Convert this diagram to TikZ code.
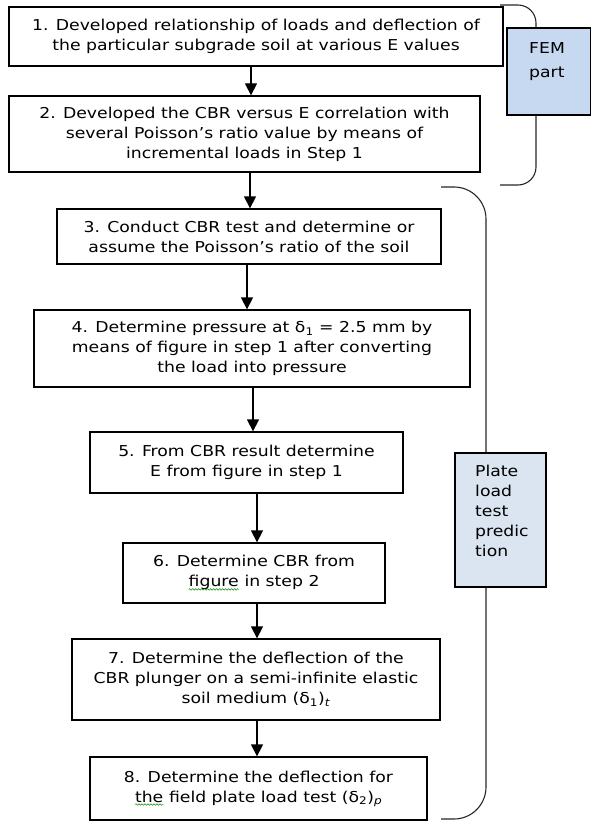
\documentclass[tikz,border=0pt]{standalone}
\usepackage{fontspec}
\setmainfont[FakeStretch=1.15]{DejaVu Sans}
\usetikzlibrary{arrows.meta,decorations.pathmorphing}
\definecolor{femblue}{HTML}{C6D9F0}
\definecolor{plateblue}{HTML}{DBE5F1}
\newcommand\fs{\fontsize{15pt}{20pt}\selectfont}
\newcommand\squig[1]{\tikz[baseline=(w.base)]{\node[inner sep=0pt,outer sep=0pt,draw=none,fill=none,text width={},minimum width=0pt,minimum height=0pt] (w) {#1};\draw[green!55!black,line width=0.5pt,decorate,decoration={snake,amplitude=0.8pt,segment length=3pt}] ([yshift=-2.5pt]w.base west) -- ([yshift=-2.5pt]w.base east);}}
\begin{document}
\begin{tikzpicture}[x=1pt,y=-1pt,
  box/.style={draw=black,line width=1.3pt,fill=white,align=center,inner sep=0pt,font=\fs},
  side/.style={draw=black,line width=1.3pt,inner sep=0pt},
  lbl/.style={inner sep=0pt,align=left,font=\fs,anchor=north west},
  brace/.style={draw=black!85,line width=1.1pt},
  arr/.style={-{Triangle[length=12pt,width=12pt]},line width=1.3pt}]
\useasboundingbox (0,0) rectangle (590,821);

% braces
\coordinate (ba1) at (500,5);
\coordinate (ba2) at (536,5);
\coordinate (ba3) at (536,185);
\coordinate (ba4) at (500,185);
\draw[brace,rounded corners=18pt] (ba1) -- (ba2) -- (ba3) -- (ba4);
\coordinate (bb1) at (441,187);
\coordinate (bb2) at (486,187);
\coordinate (bb3) at (486,819);
\coordinate (bb4) at (441,819);
\draw[brace,rounded corners=32pt] (bb1) -- (bb2) -- (bb3) -- (bb4);

% boxes
\node[box,minimum width=494pt,minimum height=59pt] (b1) at (256,36.5)
  {1. Developed relationship of loads and deflection of\\the particular subgrade soil at various E values};
\node[box,minimum width=471pt,minimum height=76pt] (b2) at (244.5,134)
  {2. Developed the CBR versus E correlation with\\several Poisson’s ratio value by means of\\incremental loads in Step 1};
\node[box,minimum width=384pt,minimum height=55pt] (b3) at (249,236.5)
  {3. Conduct CBR test and determine or\\assume the Poisson’s ratio of the soil};
\node[box,minimum width=436pt,minimum height=77pt] (b4) at (252,348.5)
  {4. Determine pressure at δ\textsubscript{1} = 2.5 mm by\\means of figure in step 1 after converting\\the load into pressure};
\node[box,minimum width=313pt,minimum height=61pt] (b5) at (246.5,462.5)
  {5. From CBR result determine\\E from figure in step 1};
\node[box,minimum width=262pt,minimum height=60pt] (b6) at (254,573)
  {6. Determine CBR from\\\squig{figure} in step 2};
\node[box,minimum width=368pt,minimum height=81pt] (b7) at (256,679.5)
  {7. Determine the deflection of the\\CBR plunger on a semi-infinite elastic\\soil medium (δ\textsubscript{1})\textsubscript{\textit{t}}};
\node[box,minimum width=337pt,minimum height=63pt] (b8) at (258.5,788.5)
  {8. Determine the deflection for\\\squig{the} field plate load test (δ\textsubscript{2})\textsubscript{\textit{p}}};

% side boxes
\node[side,fill=femblue,minimum width=84pt,minimum height=87pt] (fem) at (549,71.5) {};
\node[lbl] (femtxt) at (529,42) {FEM\\[4pt]part};
\node[side,fill=plateblue,minimum width=91pt,minimum height=134pt] (plate) at (500.5,520) {};
\node[lbl] (platetxt) at (475,465) {Plate\\load\\test\\predic\\tion};

% arrows
\draw[arr] (b1.south -| 251,0) -- (b2.north -| 251,0);
\draw[arr] (b2.south -| 250,0) -- (b3.north -| 250,0);
\draw[arr] (b3.south -| 247,0) -- (b4.north -| 247,0);
\draw[arr] (b4.south -| 253,0) -- (b5.north -| 253,0);
\draw[arr] (b5.south -| 257,0) -- (b6.north -| 257,0);
\draw[arr] (b6.south -| 257,0) -- (b7.north -| 257,0);
\draw[arr] (b7.south -| 257,0) -- (b8.north -| 257,0);
\end{tikzpicture}
\end{document}
